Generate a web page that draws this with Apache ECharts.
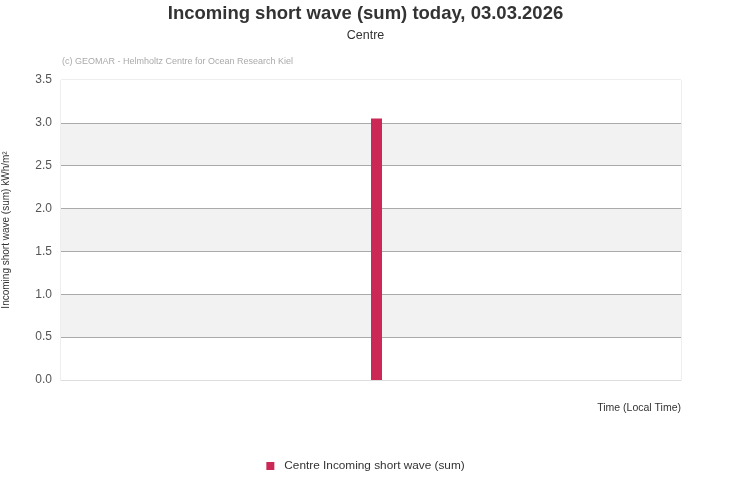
<!DOCTYPE html>
<html><head><meta charset="utf-8">
<script src="https://cdn.jsdelivr.net/npm/echarts@6/dist/echarts.min.js"></script>
<style>html,body{margin:0;padding:0;background:#fff}#c{width:731px;height:500px}</style>
</head><body><div id="c"></div>
<script>
const times = ['2026-03-03 12:13'];
const values = [3.05];
const seriesName = 'Centre Incoming short wave (sum)';
const yTicks = [0, 0.5, 1, 1.5, 2, 2.5, 3, 3.5];

const chart = echarts.init(document.getElementById('c'));
const font = 'Liberation Sans, Arial, sans-serif';
chart.setOption({
  animation: false,
  textStyle: { fontFamily: font },
  title: [
    { text: 'Incoming short wave (sum) today, 03.03.2026', left: 'center', top: -1,
      textStyle: { fontSize: 18.5, fontWeight: 'bold', color: '#333', fontFamily: font } },
    { text: 'Centre', left: 'center', top: 24,
      textStyle: { fontSize: 12.5, fontWeight: 'normal', color: '#333', fontFamily: font } },
    { text: '(c) GEOMAR - Helmholtz Centre for Ocean Research Kiel', left: 57, top: 52,
      textStyle: { fontSize: 9, fontWeight: 'normal', color: '#aaa', fontFamily: font } }
  ],
  legend: {
    bottom: 23, left: 'center', itemWidth: 8, itemHeight: 8, icon: 'rect', itemGap: 10,
    textStyle: { fontSize: 11.8, color: '#333', fontFamily: font, padding: [0, 0, 0, 5] },
    data: [seriesName]
  },
  grid: { left: 61, right: 50, top: 80, bottom: 120, outerBoundsMode: 'none', containLabel: false,
    show: true, borderColor: '#ddd', borderWidth: 1, backgroundColor: 'transparent' },
  xAxis: {
    type: 'time',
    min: '2026-03-03 00:00', max: '2026-03-04 00:00',
    name: 'Time (Local Time)', nameLocation: 'end',
    nameGap: 0,
    nameTextStyle: { fontSize: 10.5, color: '#333', align: 'right', verticalAlign: 'top', padding: [23, 0, 0, 0] },
    axisLine: { show: true, lineStyle: { color: '#ddd' } },
    axisTick: { show: false }, axisLabel: { show: false }, splitLine: { show: false }
  },
  yAxis: {
    type: 'value', min: yTicks[0], max: yTicks[yTicks.length - 1], interval: 0.5,
    name: 'Incoming short wave (sum) kWh/m²', nameLocation: 'middle', nameGap: 50, nameRotate: 90,
    nameTextStyle: { fontSize: 10, color: '#333' },
    axisLine: { show: false }, axisTick: { show: false },
    axisLabel: { fontSize: 12, color: '#555', margin: 9, formatter: v => v.toFixed(1) },
    splitLine: { show: true, showMinLine: false, showMaxLine: false, lineStyle: { color: '#aaa', width: 1 } },
    splitArea: { show: true, areaStyle: { color: ['#ffffff', '#f2f2f2'] } }
  },
  series: [{
    name: seriesName, type: 'bar', barWidth: 11,
    itemStyle: { color: '#cc2855' },
    data: times.map((t, i) => [t, values[i]])
  }]
});
</script></body></html>
